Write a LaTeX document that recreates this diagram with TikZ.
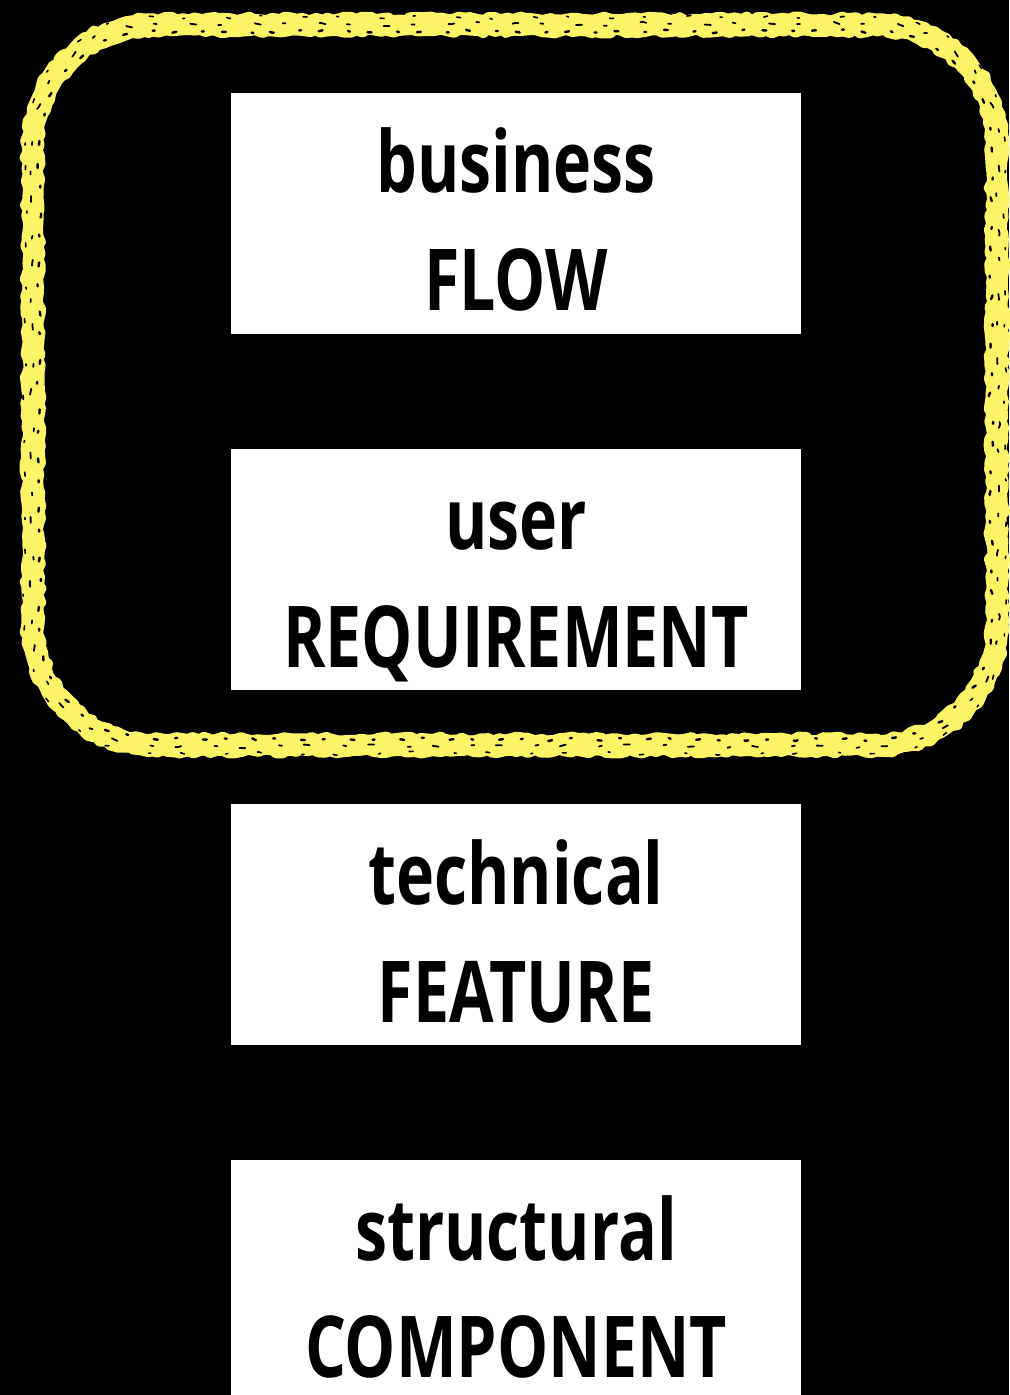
\documentclass[tikz,border=0pt]{standalone}
\usepackage{fontspec}
\usetikzlibrary{decorations.pathmorphing}
\newfontfamily\labelfont{Open Sans}[FakeStretch=0.755]
\definecolor{chalk}{RGB}{250,244,102}
\tikzset{
  cardbox/.style={fill=white, draw=none, rectangle, inner sep=0pt,
    minimum width=285pt, minimum height=120.5pt},
  cardtext/.style={anchor=base, inner sep=0pt, text=black,
    font=\labelfont\bfseries\fontsize{42.7}{50}\selectfont},
  chalkline/.style={draw=chalk, line cap=round, line join=round, decorate,
    decoration={random steps, segment length=3pt, amplitude=1pt}},
  chalkgrain/.style={draw=black, line cap=round, decorate,
    decoration={random steps, segment length=5pt, amplitude=1.1pt}},
}
% rounded loop round the upper cards, pushed out from its mid line by #1
\newcommand\chalkloop[1]{%
  ({33-(#1)},145) arc[start angle=180, end angle=270, radius={120+(#1)}]
  -- (877,{25-(#1)}) arc[start angle=270, end angle=360, radius={120+(#1)}]
  -- ({997+(#1)},625) arc[start angle=0, end angle=90, radius={120+(#1)}]
  -- (153,{745+(#1)}) arc[start angle=90, end angle=180, radius={120+(#1)}]
  -- cycle}
\begin{document}
\begin{tikzpicture}[x=0.5pt, y=-0.5pt]
  \pgfmathsetseed{11}
  \useasboundingbox (0,0) rectangle (1009,1395);
  \fill[black] (0,0) rectangle (1009,1395);

  % four stacked cards
  \node[cardbox] (flow) at (516,213.5) {};
  \node[cardbox] (req)  at (516,569.5) {};
  \node[cardbox] (feat) at (516,924.5) {};
  \node[cardbox] (comp) at (516,1280.5) {};

  \node[cardtext] (flowa) at (516,193)  {business};
  \node[cardtext] (flowb) at (516,311)  {FLOW};
  \node[cardtext] (reqa)  at (516,549)  {user};
  \node[cardtext] (reqb)  at (516,667)  {REQUIREMENT};
  \node[cardtext] (feata) at (516,904)  {technical};
  \node[cardtext] (featb) at (516,1022) {FEATURE};
  \node[cardtext] (compa) at (516,1260) {structural};
  \node[cardtext] (compb) at (516,1377) {COMPONENT};

  % hand-drawn chalk outline round the upper two cards
  \draw[chalkline, line width=9pt] \chalkloop{0};
  \draw[chalkline, line width=4.5pt] \chalkloop{-7};
  \draw[chalkline, line width=4.5pt] \chalkloop{7};
  % dark grain in the chalk stroke
  \draw[chalkgrain, line width=1.2pt, dash pattern=on 2pt off 13pt on 1pt off 9pt] \chalkloop{-6};
  \draw[chalkgrain, line width=0.9pt, dash pattern=on 1.5pt off 17pt on 3pt off 11pt] \chalkloop{1};
  \draw[chalkgrain, line width=0.8pt, dash pattern=on 1pt off 21pt on 2pt off 15pt] \chalkloop{8};
\end{tikzpicture}
\end{document}
